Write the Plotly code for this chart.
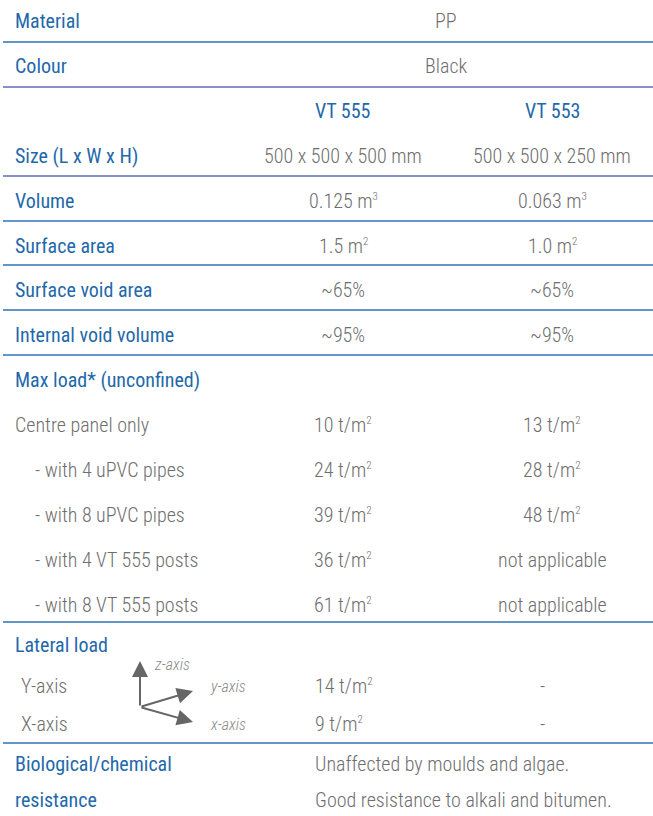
import plotly.graph_objects as go

# ---- data ----
labels_top = ["Material", "Colour"]
values_top = ["PP", "Black"]

products = ["VT 555", "VT 553"]

SUP3 = "<sup><span style='font-size:11px'>3</span></sup>"
SUP2 = "<sup><span style='font-size:11px'>2</span></sup>"

spec_labels = ["Size (L x W x H)", "Volume", "Surface area", "Surface void area", "Internal void volume"]
spec_vt555 = ["500 x 500 x 500 mm", "0.125 m" + SUP3, "1.5 m" + SUP2, "~65%", "~95%"]
spec_vt553 = ["500 x 500 x 250 mm", "0.063 m" + SUP3, "1.0 m" + SUP2, "~65%", "~95%"]

maxload_title = "Max load* (unconfined)"
load_labels = ["Centre panel only", "- with 4 uPVC pipes", "- with 8 uPVC pipes",
               "- with 4 VT 555 posts", "- with 8 VT 555 posts"]
load_vt555 = ["10 t/m" + SUP2, "24 t/m" + SUP2, "39 t/m" + SUP2, "36 t/m" + SUP2, "61 t/m" + SUP2]
load_vt553 = ["13 t/m" + SUP2, "28 t/m" + SUP2, "48 t/m" + SUP2, "not applicable", "not applicable"]

lateral_title = "Lateral load"
lateral_labels = ["Y-axis", "X-axis"]
lateral_vt555 = ["14 t/m" + SUP2, "9 t/m" + SUP2]
lateral_vt553 = ["-", "-"]
axis_names = ["z-axis", "y-axis", "x-axis"]

bio_labels = ["Biological/chemical", "resistance"]
bio_values = ["Unaffected by moulds and algae.", "Good resistance to alkali and bitumen."]

# ---- style ----
W, H = 653, 816
FONT = "Roboto Condensed, Liberation Sans Narrow, DejaVu Sans Condensed, Roboto, sans-serif"
BLUE = "#1f69aa"
GREY = "#6e6e6e"
LINE = "#2b74b6"
LINE2 = "#5d6db0"
FS = 20

LX = 13
C1 = 343
C2 = 552
CM = 446
LAT_X = 313

fig = go.Figure()
ann = []
shapes = []


def txt(x, y, s, color, xanchor="left", size=FS, italic=False):
    weight = 400 if color == BLUE else 300
    ann.append(dict(x=x, y=y, xref="x", yref="y", text=(f"<i>{s}</i>" if italic else s),
                    showarrow=False, xanchor=xanchor, yanchor="middle",
                    font=dict(family=FONT, size=size, color=color, weight=weight)))


def hline(y, color=LINE):
    shapes.append(dict(type="line", xref="x", yref="y", x0=3, x1=W, y0=y, y1=y,
                       line=dict(color=color, width=1.6)))


row_h = 44.9
y0 = 21

for i, (lab, val) in enumerate(zip(labels_top, values_top)):
    y = y0 + i * row_h
    txt(LX, y, lab, BLUE)
    txt(CM, y, val, GREY, "center")

y = y0 + 2 * row_h
txt(C1, y, products[0], BLUE, "center")
txt(C2, y, products[1], BLUE, "center")

for i, (lab, a, b) in enumerate(zip(spec_labels, spec_vt555, spec_vt553)):
    y = y0 + (3 + i) * row_h
    txt(LX, y, lab, BLUE)
    txt(C1, y, a, GREY, "center")
    txt(C2, y, b, GREY, "center")

y = y0 + 8 * row_h
txt(LX, y, maxload_title, BLUE)
for i, (lab, a, b) in enumerate(zip(load_labels, load_vt555, load_vt553)):
    y = y0 + (9 + i) * row_h
    txt(LX if i == 0 else 33, y, lab, GREY)
    txt(C1, y, a, GREY, "center")
    txt(C2, y, b, GREY, "center")

txt(LX, 645, lateral_title, BLUE)
lat_y = [686, 724]
for lab, a, b, y in zip(lateral_labels, lateral_vt555, lateral_vt553, lat_y):
    txt(19, y, lab, GREY)
    txt(LAT_X, y, a, GREY)
    txt(542, y, b, GREY, "center")

ox, oy = 140, 707
heads = [(140, 661), (193, 691), (193, 722)]
for hx, hy in heads:
    ann.append(dict(x=hx, y=hy, ax=ox, ay=oy, xref="x", yref="y", axref="x", ayref="y",
                    text="", showarrow=True, arrowhead=2, arrowsize=1.6, arrowwidth=2,
                    arrowcolor="#666666"))
axis_pos = [(152, 664), (208, 686), (208, 724)]
for name, (x, y) in zip(axis_names, axis_pos):
    txt(x, y, name, "#8a8a8a", size=16, italic=True)

for lab, val, y in zip(bio_labels, bio_values, [764, 800]):
    txt(LX, y, lab, BLUE)
    txt(LAT_X, y, val, GREY)

for yl, col in [(42, LINE), (87, LINE2), (176, LINE2), (221, LINE), (265, LINE),
                (310, LINE), (355, LINE), (622, LINE), (743, LINE)]:
    hline(yl, col)

fig.update_layout(
    width=W, height=H, margin=dict(l=0, r=0, t=0, b=0),
    paper_bgcolor="white", plot_bgcolor="white",
    xaxis=dict(range=[0, W], visible=False, fixedrange=True),
    yaxis=dict(range=[H, 0], visible=False, fixedrange=True),
    annotations=ann, shapes=shapes, showlegend=False,
)
fig.write_html("out.html", config={"displayModeBar": False},
               post_script="document.body.style.margin='0';document.body.style.overflow='hidden';")
